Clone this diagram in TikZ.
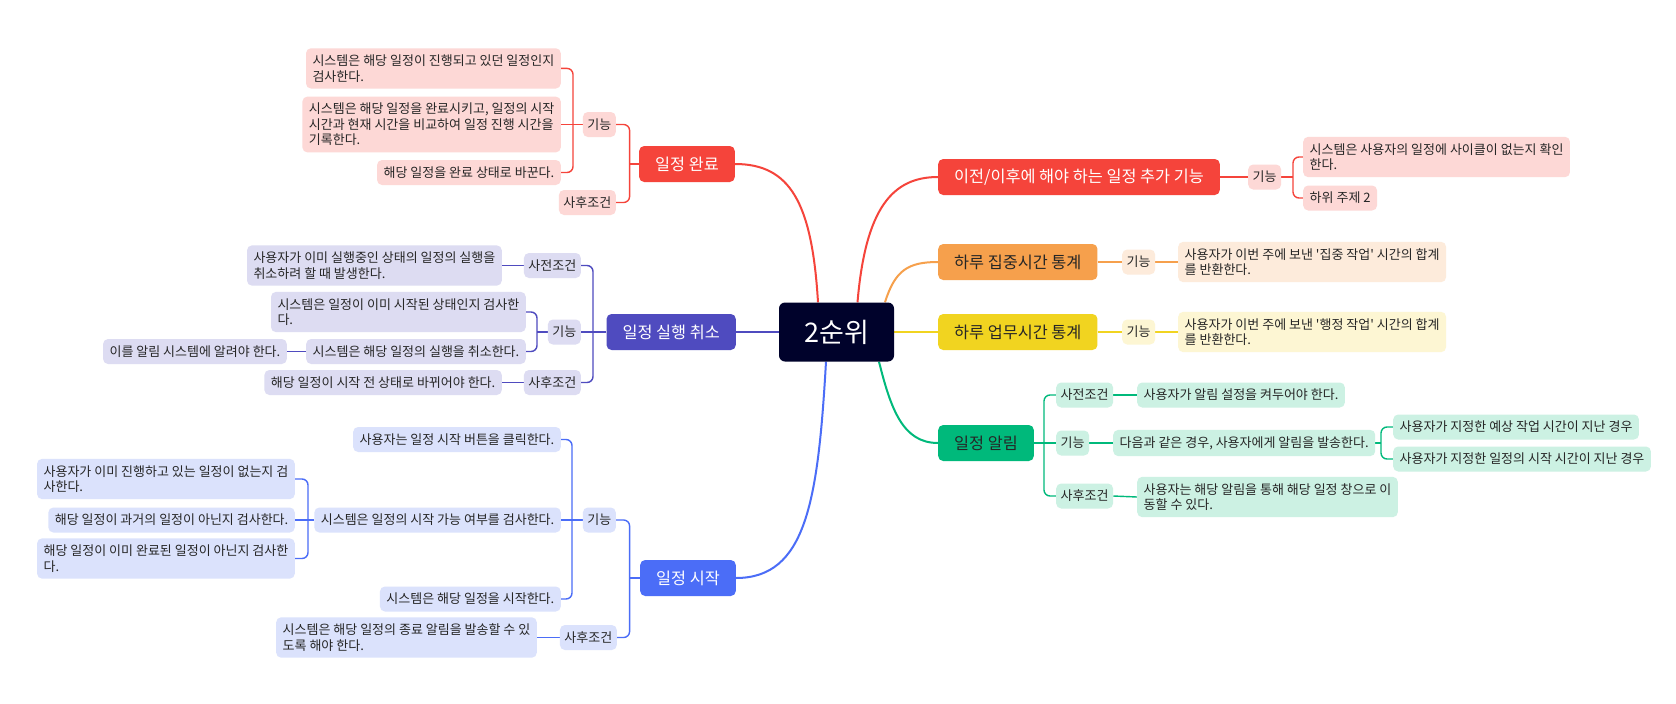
\documentclass[tikz,border=0pt]{standalone}
\usepackage{fontspec}
\newfontfamily\kr[Ligatures=TeXOff]{Noto Sans CJK KR}
\usetikzlibrary{backgrounds}

\definecolor{cNavy}{HTML}{00022B}
\definecolor{cRed}{HTML}{F5443B}
\definecolor{cRedL}{HTML}{FDD8D6}
\definecolor{cOrange}{HTML}{F6A04C}
\definecolor{cOrangeL}{HTML}{FDEBDB}
\definecolor{cYellow}{HTML}{F1D420}
\definecolor{cYellowL}{HTML}{FDF6D3}
\definecolor{cGreen}{HTML}{00B97B}
\definecolor{cGreenL}{HTML}{CCF1E3}
\definecolor{cPurple}{HTML}{4F4BBF}
\definecolor{cPurpleL}{HTML}{DDDCF2}
\definecolor{cBlue}{HTML}{4B6DF7}
\definecolor{cBlueL}{HTML}{DBE2FC}

\tikzset{
    every node/.style={font=\kr\fontsize{13}{15.5}\selectfont, text=black!85},
    root/.style={fill=cNavy, text=white, rounded corners=6pt, minimum width=115pt,
        minimum height=59pt, font=\kr\fontsize{27}{30}\selectfont},
    topic/.style={rounded corners=5pt, minimum height=36pt, inner xsep=16pt,
        font=\kr\fontsize{16.3}{19}\selectfont},
    tag/.style={rounded corners=5pt, minimum height=25pt, inner xsep=4.5pt, inner ysep=0pt},
    leaf/.style={rounded corners=5pt, minimum height=25pt, inner xsep=6.5pt, inner ysep=6.5pt, align=left},
    trunk/.style={line width=2pt},
    twig/.style={line width=1.4pt, rounded corners=6pt},
}

\begin{document}
\begin{tikzpicture}[x=1pt, y=-1pt]
    \useasboundingbox (0,0) rectangle (1676,704);

    \node[root] (root) at (836.5,332) {2순위};

    % left
    \node[topic, fill=cRed, text=white, anchor=east] (done) at (735,164) {일정 완료};
    \node[topic, fill=cPurple, text=white, anchor=east] (undo) at (736,332) {일정 실행 취소};
    \node[topic, fill=cBlue, text=white, anchor=east] (start) at (736,578) {일정 시작};

    % right
    \node[topic, fill=cRed, text=white, anchor=west] (order) at (938,177) {이전/이후에 해야 하는 일정 추가 기능};
    \node[topic, fill=cOrange, anchor=west] (focus) at (938,262) {하루 집중시간 통계};
    \node[topic, fill=cYellow, anchor=west] (work) at (938,332) {하루 업무시간 통계};
    \node[topic, fill=cGreen, anchor=west] (alarm) at (938,443) {일정 알림};

    % 일정 완료
    \node[tag, fill=cRedL, anchor=east] (doneF) at (616,124.5) {기능};
    \node[tag, fill=cRedL, anchor=east] (doneQ) at (616,202.5) {사후조건};
    \node[leaf, fill=cRedL, anchor=east] (doneF1) at (561,68.4) {시스템은 해당 일정이 진행되고 있던 일정인지\\검사한다.};
    \node[leaf, fill=cRedL, anchor=east] (doneF2) at (561,124.5) {시스템은 해당 일정을 완료시키고, 일정의 시작\\시간과 현재 시간을 비교하여 일정 진행 시간을\\기록한다.};
    \node[leaf, fill=cRedL, anchor=east] (doneF3) at (561,172.5) {해당 일정을 완료 상태로 바꾼다.};

    % 일정 실행 취소
    \node[tag, fill=cPurpleL, anchor=east] (undoP) at (581,265.5) {사전조건};
    \node[tag, fill=cPurpleL, anchor=east] (undoF) at (581,332) {기능};
    \node[tag, fill=cPurpleL, anchor=east] (undoQ) at (581,382.5) {사후조건};
    \node[leaf, fill=cPurpleL, anchor=east] (undoP1) at (502,265.5) {사용자가 이미 실행중인 상태의 일정의 실행을\\취소하려 할 때 발생한다.};
    \node[leaf, fill=cPurpleL, anchor=east] (undoF1) at (526,312) {시스템은 일정이 이미 시작된 상태인지 검사한\\다.};
    \node[leaf, fill=cPurpleL, anchor=east] (undoF2) at (526,351.5) {시스템은 해당 일정의 실행을 취소한다.};
    \node[leaf, fill=cPurpleL, anchor=east] (undoF21) at (287,351.5) {이를 알림 시스템에 알려야 한다.};
    \node[leaf, fill=cPurpleL, anchor=east] (undoQ1) at (502,382.5) {해당 일정이 시작 전 상태로 바뀌어야 한다.};

    % 일정 시작
    \node[tag, fill=cBlueL, anchor=east] (startF) at (616,520) {기능};
    \node[tag, fill=cBlueL, anchor=east] (startQ) at (617,637.5) {사후조건};
    \node[leaf, fill=cBlueL, anchor=east] (startF1) at (561,439.5) {사용자는 일정 시작 버튼을 클릭한다.};
    \node[leaf, fill=cBlueL, anchor=east] (startF2) at (561,520) {시스템은 일정의 시작 가능 여부를 검사한다.};
    \node[leaf, fill=cBlueL, anchor=east] (startF3) at (561,599) {시스템은 해당 일정을 시작한다.};
    \node[leaf, fill=cBlueL, anchor=east] (check1) at (295,479) {사용자가 이미 진행하고 있는 일정이 없는지 검\\사한다.};
    \node[leaf, fill=cBlueL, anchor=east] (check2) at (295,520) {해당 일정이 과거의 일정이 아닌지 검사한다.};
    \node[leaf, fill=cBlueL, anchor=east] (check3) at (295,558.5) {해당 일정이 이미 완료된 일정이 아닌지 검사한\\다.};
    \node[leaf, fill=cBlueL, anchor=east] (startQ1) at (537,637.5) {시스템은 해당 일정의 종료 알림을 발송할 수 있\\도록 해야 한다.};

    % 이전/이후
    \node[tag, fill=cRedL, anchor=west] (orderF) at (1248,177) {기능};
    \node[leaf, fill=cRedL, anchor=west] (order1) at (1303,157) {시스템은 사용자의 일정에 사이클이 없는지 확인\\한다.};
    \node[leaf, fill=cRedL, anchor=west] (order2) at (1303,198) {하위 주제 2};

    % 통계
    \node[tag, fill=cOrangeL, anchor=west] (focusF) at (1122,262) {기능};
    \node[leaf, fill=cOrangeL, anchor=west] (focus1) at (1178,262) {사용자가 이번 주에 보낸 '집중 작업' 시간의 합계\\를 반환한다.};
    \node[tag, fill=cYellowL, anchor=west] (workF) at (1122,332) {기능};
    \node[leaf, fill=cYellowL, anchor=west] (work1) at (1178,332) {사용자가 이번 주에 보낸 '행정 작업' 시간의 합계\\를 반환한다.};

    % 일정 알림
    \node[tag, fill=cGreenL, anchor=west] (alarmP) at (1056,395) {사전조건};
    \node[tag, fill=cGreenL, anchor=west] (alarmF) at (1056,443) {기능};
    \node[tag, fill=cGreenL, anchor=west] (alarmQ) at (1056,496) {사후조건};
    \node[leaf, fill=cGreenL, anchor=west] (alarmP1) at (1137,395) {사용자가 알림 설정을 켜두어야 한다.};
    \node[leaf, fill=cGreenL, anchor=west] (alarmF1) at (1113,443) {다음과 같은 경우, 사용자에게 알림을 발송한다.};
    \node[leaf, fill=cGreenL, anchor=west] (case1) at (1393,427) {사용자가 지정한 예상 작업 시간이 지난 경우};
    \node[leaf, fill=cGreenL, anchor=west] (case2) at (1393,459) {사용자가 지정한 일정의 시작 시간이 지난 경우};
    \node[leaf, fill=cGreenL, anchor=west] (alarmQ1) at (1137,497) {사용자는 해당 알림을 통해 해당 일정 창으로 이\\동할 수 있다.};

    \coordinate (doneJ) at (629.6,164);
    \coordinate (doneFJ) at (573,124.5);
    \coordinate (undoJ) at (593,332);
    \coordinate (undoFJ) at (537,332);
    \coordinate (startJ) at (629.6,578);
    \coordinate (startFJ) at (572,520);
    \coordinate (checkJ) at (308,520);
    \coordinate (orderJ) at (1293,177);
    \coordinate (alarmJ) at (1044,443);
    \coordinate (alarmFJ) at (1381,443);

    \begin{scope}[on background layer]
        \fill[white] (0,0) rectangle (1676,704);
        % trunks
        \draw[trunk, cRed] ([xshift=-18.5pt]root.north) .. controls +(-6,-100) and +(55,0) .. (done.east);
        \draw[trunk, cPurple] (root.west) -- (undo.east);
        \draw[trunk, cBlue] ([xshift=-10.5pt]root.south) .. controls +(-8,140) and +(70,0) .. (start.east);
        \draw[trunk, cRed] ([xshift=21pt]root.north) .. controls +(8,-95) and +(-45,0) .. (order.west);
        \draw[trunk, cOrange] ([xshift=48.5pt]root.north) .. controls +(10,-32) and +(-30,0) .. (focus.west);
        \draw[trunk, cYellow] (root.east) -- (work.west);
        \draw[trunk, cGreen] ([xshift=42.5pt]root.south) .. controls +(12,48) and +(-35,0) .. (alarm.west);

        % 일정 완료
        \draw[twig, cRed] (done.west) -- (doneJ);
        \draw[twig, cRed] (doneF.east) -| (doneJ) |- (doneQ.east);
        \draw[twig, cRed] (doneF.west) -- (doneF2.east);
        \draw[twig, cRed] (doneF1.east) -| (doneFJ) |- (doneF3.east);

        % 일정 실행 취소
        \draw[twig, cPurple] (undo.west) -- (undoF.east);
        \draw[twig, cPurple] (undoP.east) -| (undoJ) |- (undoQ.east);
        \draw[twig, cPurple] (undoF.west) -- (undoFJ);
        \draw[twig, cPurple] (undoF1.east) -| (undoFJ) |- (undoF2.east);
        \foreach \a/\b in {undoP/undoP1, undoQ/undoQ1, undoF2/undoF21}
            \draw[twig, cPurple] (\a.west) -- (\b.east);

        % 일정 시작
        \draw[twig, cBlue] (start.west) -- (startJ);
        \draw[twig, cBlue] (startF.east) -| (startJ) |- (startQ.east);
        \draw[twig, cBlue] (startF.west) -- (startF2.east);
        \draw[twig, cBlue] (startF1.east) -| (startFJ) |- (startF3.east);
        \draw[twig, cBlue] (startF2.west) -- (check2.east);
        \draw[twig, cBlue] (check1.east) -| (checkJ) |- (check3.east);
        \draw[twig, cBlue] (startQ.west) -- (startQ1.east);

        % right side
        \draw[twig, cRed] (order.east) -- (orderF.west);
        \draw[twig, cRed] (orderF.east) -- (orderJ);
        \draw[twig, cRed] (order1.west) -| (orderJ) |- (order2.west);
        \draw[twig, cOrange] (focus.east) -- (focusF.west);
        \draw[twig, cOrange] (focusF.east) -- (focus1.west);
        \draw[twig, cYellow] (work.east) -- (workF.west);
        \draw[twig, cYellow] (workF.east) -- (work1.west);

        \draw[twig, cGreen] (alarm.east) -- (alarmF.west);
        \draw[twig, cGreen] (alarmP.west) -| (alarmJ) |- (alarmQ.west);
        \foreach \a/\b in {alarmP/alarmP1, alarmF/alarmF1, alarmQ/alarmQ1}
            \draw[twig, cGreen] (\a.east) -- (\b.west);
        \draw[twig, cGreen] (alarmF1.east) -- (alarmFJ);
        \draw[twig, cGreen] (case1.west) -| (alarmFJ) |- (case2.west);
    \end{scope}
\end{tikzpicture}
\end{document}
